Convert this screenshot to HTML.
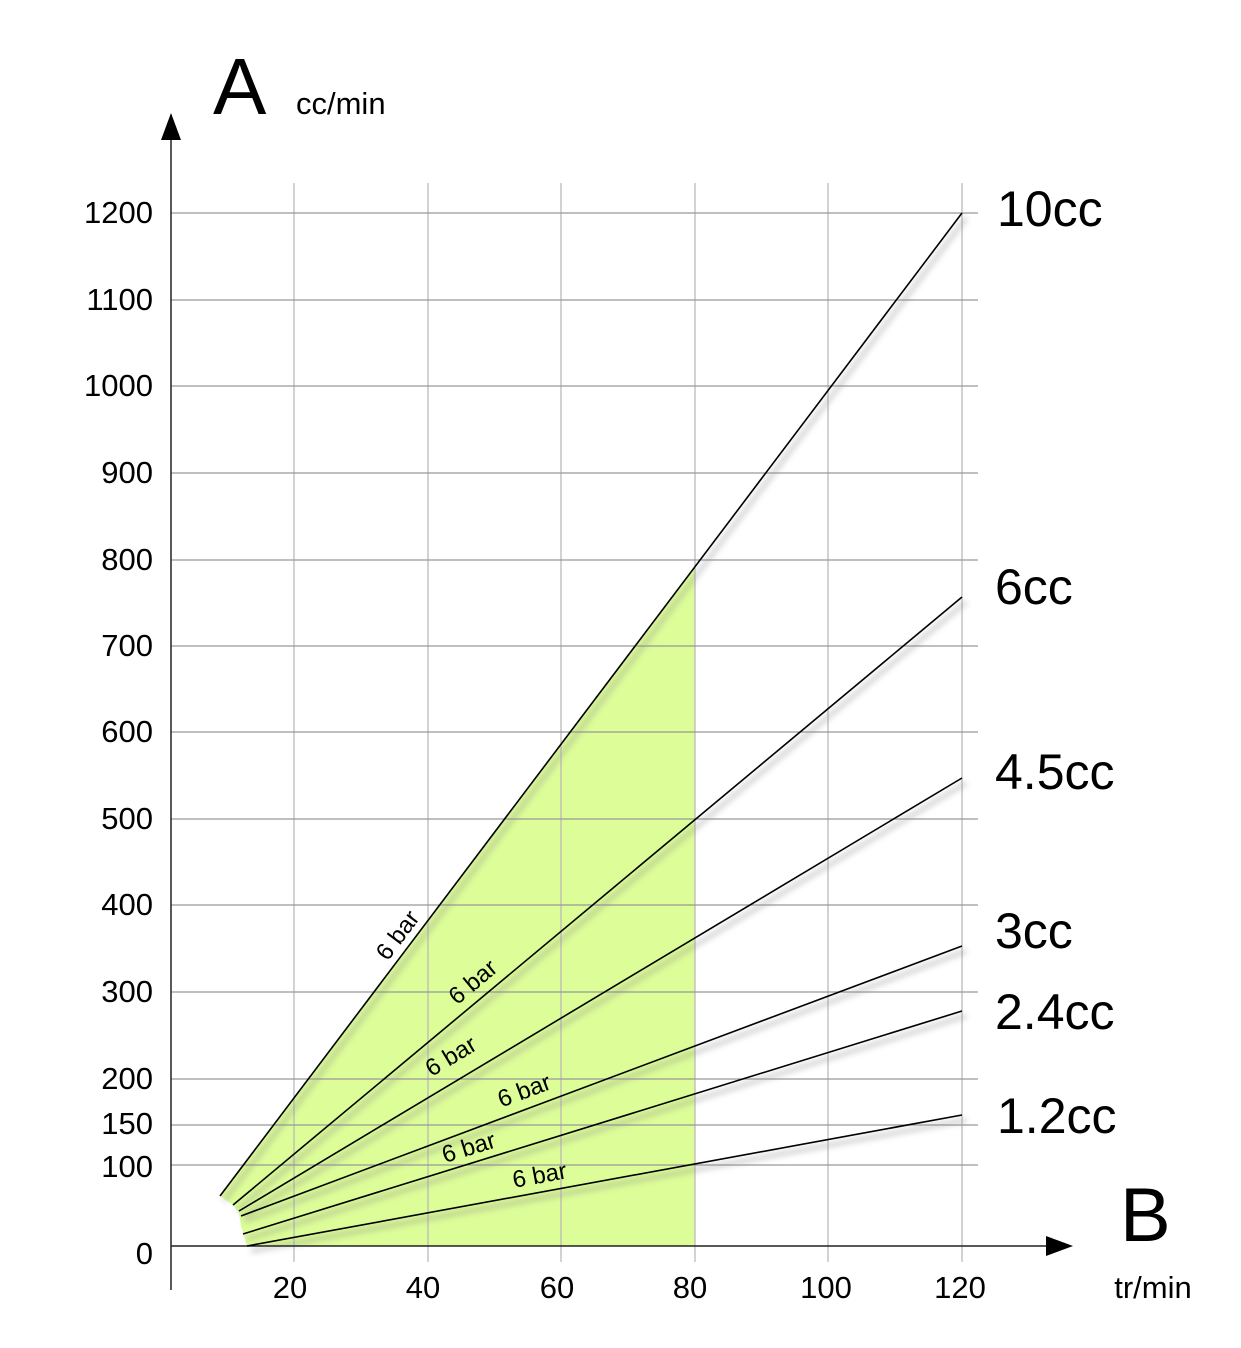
<!DOCTYPE html>
<html><head><style>html,body{margin:0;padding:0;background:#fff}svg{display:block}</style></head>
<body>
<svg width="1241" height="1348" viewBox="0 0 1241 1348" xmlns="http://www.w3.org/2000/svg" font-family="Liberation Sans, sans-serif">
<defs><filter id="sh" x="-10%" y="-10%" width="120%" height="120%"><feGaussianBlur stdDeviation="3"/></filter></defs>
<polygon points="220,1196 695,567 695,1246 247,1246 241,1226 239,1213 233,1205" fill="#dcfd98"/>
<g stroke="#bbb" stroke-width="1.3">
<line x1="294" y1="183" x2="294" y2="1262"/><line x1="428" y1="183" x2="428" y2="1262"/>
<line x1="561" y1="183" x2="561" y2="1262"/><line x1="695" y1="183" x2="695" y2="1262"/>
<line x1="828" y1="183" x2="828" y2="1262"/><line x1="962" y1="183" x2="962" y2="1262"/>
</g>
<g stroke="#999" stroke-width="1.3">
<line x1="171" y1="213" x2="978" y2="213"/><line x1="171" y1="300" x2="978" y2="300"/>
<line x1="171" y1="386" x2="978" y2="386"/><line x1="171" y1="473" x2="978" y2="473"/>
<line x1="171" y1="560" x2="978" y2="560"/><line x1="171" y1="646" x2="978" y2="646"/>
<line x1="171" y1="732" x2="978" y2="732"/><line x1="171" y1="819" x2="978" y2="819"/>
<line x1="171" y1="905" x2="978" y2="905"/><line x1="171" y1="992" x2="978" y2="992"/>
<line x1="171" y1="1079" x2="978" y2="1079"/><line x1="171" y1="1125" x2="978" y2="1125"/>
<line x1="171" y1="1165" x2="978" y2="1165"/>
</g>
<g stroke="#888" stroke-width="5" opacity="0.35" filter="url(#sh)" transform="translate(4,5)">
<line x1="220" y1="1196" x2="962" y2="213"/><line x1="233" y1="1205" x2="962" y2="597"/>
<line x1="239" y1="1211" x2="962" y2="778"/><line x1="241" y1="1216" x2="962" y2="946"/>
<line x1="243" y1="1234" x2="962" y2="1011"/><line x1="247" y1="1246" x2="962" y2="1115"/>
</g>
<g stroke="#222" stroke-width="1.5">
<line x1="171" y1="135" x2="171" y2="1290"/><line x1="171" y1="1246" x2="1050" y2="1246"/>
</g>
<polygon points="171,113 161,140 181,140" fill="#000"/>
<polygon points="1073,1246 1046,1236 1046,1256" fill="#000"/>
<g stroke="#000" stroke-width="1.6">
<line x1="220" y1="1196" x2="962" y2="213"/><line x1="233" y1="1205" x2="962" y2="597"/>
<line x1="239" y1="1211" x2="962" y2="778"/><line x1="241" y1="1216" x2="962" y2="946"/>
<line x1="243" y1="1234" x2="962" y2="1011"/><line x1="247" y1="1246" x2="962" y2="1115"/>
</g>
<g font-size="31" text-anchor="end" fill="#000">
<text x="153" y="223">1200</text><text x="153" y="310">1100</text><text x="153" y="396">1000</text>
<text x="153" y="483">900</text><text x="153" y="570">800</text><text x="153" y="656">700</text>
<text x="153" y="742">600</text><text x="153" y="829">500</text><text x="153" y="915">400</text>
<text x="153" y="1002">300</text><text x="153" y="1089">200</text><text x="153" y="1134">150</text>
<text x="153" y="1177">100</text><text x="153" y="1264">0</text>
</g>
<g font-size="31" text-anchor="middle">
<text x="290" y="1298">20</text><text x="423" y="1298">40</text><text x="557" y="1298">60</text>
<text x="690" y="1298">80</text><text x="826" y="1298">100</text><text x="960" y="1298">120</text>
</g>
<text x="1153" y="1298" font-size="31" text-anchor="middle">tr/min</text>
<text x="213" y="114" font-size="80">A</text>
<text x="296" y="114" font-size="31">cc/min</text>
<text x="1120" y="1241" font-size="76">B</text>
<g font-size="50">
<text x="997" y="226">10cc</text><text x="995" y="604">6cc</text><text x="995" y="789">4.5cc</text>
<text x="995" y="948">3cc</text><text x="995" y="1029">2.4cc</text><text x="997" y="1133">1.2cc</text>
</g>
<g font-size="24" text-anchor="middle">
<text transform="translate(404,940) rotate(-53)">6 bar</text>
<text transform="translate(478,988) rotate(-40)">6 bar</text>
<text transform="translate(455,1063) rotate(-31)">6 bar</text>
<text transform="translate(527,1098) rotate(-20.5)">6 bar</text>
<text transform="translate(471,1155) rotate(-17)">6 bar</text>
<text transform="translate(541,1183) rotate(-10.4)">6 bar</text>
</g>
</svg>
</body></html>
